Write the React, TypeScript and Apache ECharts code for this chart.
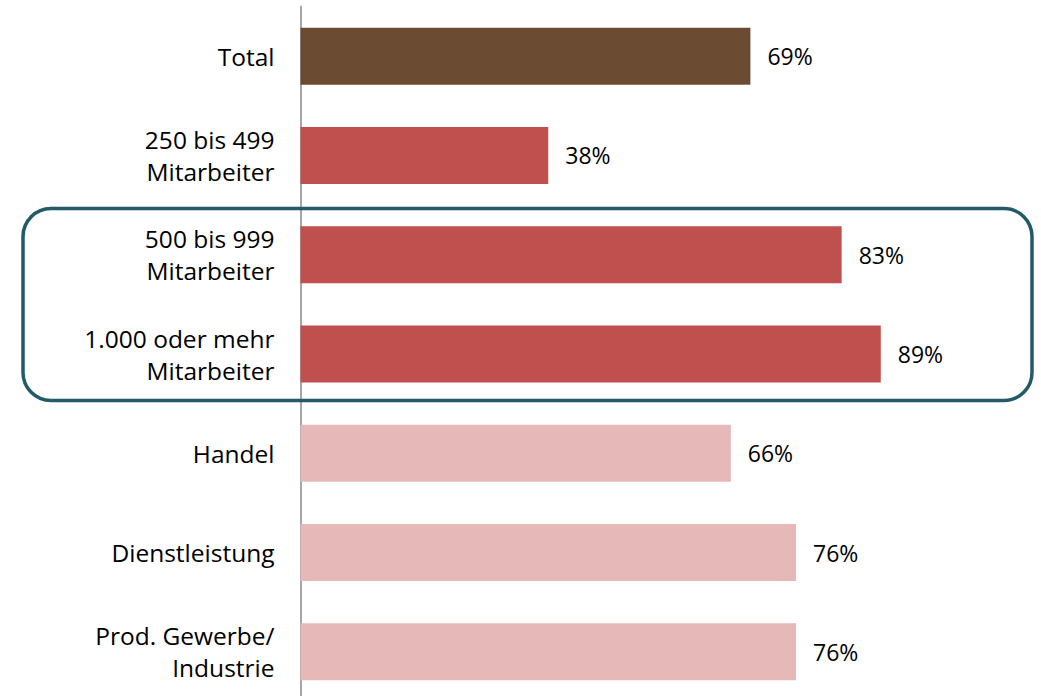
import React, { useEffect, useRef } from "react";
import * as echarts from "echarts";

const categories = [
  "Total",
  "250 bis 499\nMitarbeiter",
  "500 bis 999\nMitarbeiter",
  "1.000 oder mehr\nMitarbeiter",
  "Handel",
  "Dienstleistung",
  "Prod. Gewerbe/\nIndustrie",
];
const values = [69, 38, 83, 89, 66, 76, 76];
const barColors = ["#6b4c33", "#c0504d", "#c0504d", "#c0504d", "#e6b9b8", "#e6b9b8", "#e6b9b8"];

const FONT = "Open Sans";

export default function App() {
  const ref = useRef<HTMLDivElement>(null);
  useEffect(() => {
    if (!ref.current) return;
    const chart = echarts.init(ref.current, undefined, { renderer: "svg" });
    chart.setOption({
      animation: false,
      grid: { left: 300.5, top: 6.5, width: 652, height: 695 },
      xAxis: {
        type: "value",
        min: 0,
        max: 100,
        show: false,
      },
      yAxis: {
        type: "category",
        inverse: true,
        data: categories,
        axisLine: { show: true, lineStyle: { color: "#a6a6a6", width: 2 } },
        axisTick: { show: false },
        axisLabel: {
          color: "#000",
          fontFamily: FONT,
          fontSize: 24.5,
          lineHeight: 32,
          margin: 26,
          align: "right",
        },
      },
      series: [
        {
          type: "bar",
          barWidth: 57,
          data: values.map((v, i) => ({ value: v, itemStyle: { color: barColors[i] } })),
          label: {
            show: true,
            position: "right",
            distance: 17,
            formatter: "{c}%",
            color: "#000",
            fontFamily: FONT,
            fontSize: 23,
          },
        },
      ],
      graphic: [
        {
          type: "rect",
          z: 100,
          shape: { x: 23, y: 208.5, width: 1009, height: 192, r: 28 },
          style: { fill: "none", stroke: "#235a6a", lineWidth: 3.5 },
        },
      ],
    });
    return () => chart.dispose();
  }, []);
  return (
    <div
      ref={ref}
      style={{ position: "fixed", left: 0, top: 0, width: 1041, height: 702, background: "#fff" }}
    />
  );
}
